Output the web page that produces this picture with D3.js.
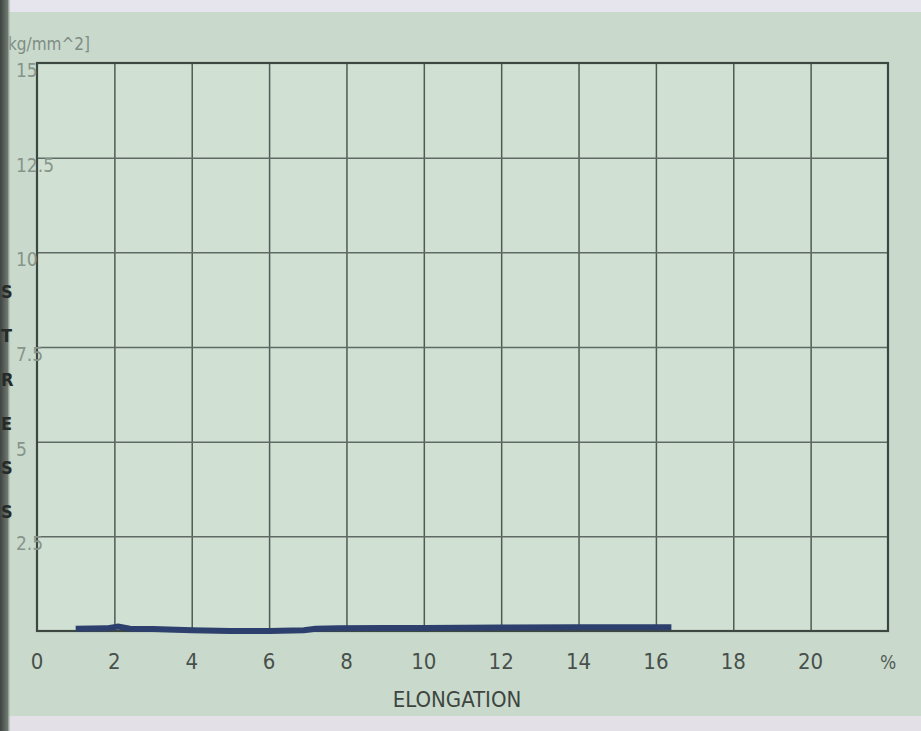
<!DOCTYPE html>
<html>
<head>
<meta charset="utf-8">
<script src="https://cdn.jsdelivr.net/npm/d3@7"></script>
<style>
  html, body { margin: 0; padding: 0; background: #c9dacc; }
  svg { display: block; }
</style>
</head>
<body>
<svg id="chart" width="921" height="731"></svg>
<script>
// Elongation (%) vs stress (kg/mm^2)
var elongation = [1.0, 1.8, 2.1, 2.4, 3.0, 4.0, 5.0, 6.0, 6.9, 7.2, 7.8, 9.0, 10.0, 12.0, 14.0, 16.0, 16.4];
var stress     = [0.06, 0.07, 0.12, 0.06, 0.05, 0.02, 0.0, 0.0, 0.02, 0.06, 0.07, 0.08, 0.08, 0.09, 0.1, 0.1, 0.1];

var xTicks = [0, 2, 4, 6, 8, 10, 12, 14, 16, 18, 20];
var yTicks = [2.5, 5, 7.5, 10, 12.5, 15];
var yTickLabels = ["2.5", "5", "7.5", "10", "12.5", "15"];
var yTitleLetters = ["S", "T", "R", "E", "S", "S"];

var W = 921, H = 731;
var margin = { left: 37, right: 33, top: 63, bottom: 100 };
var plotW = W - margin.left - margin.right;
var plotH = H - margin.top - margin.bottom;

var font = "'DejaVu Sans Condensed', 'Liberation Sans Narrow', 'Roboto', sans-serif";

var svg = d3.select("#chart");

// Page background, plus the paper edge / shadow bits of the photo
svg.append("rect").attr("width", W).attr("height", H).attr("fill", "#c9dacc");
svg.append("rect").attr("width", W).attr("height", 12).attr("fill", "#e6e4ec");
svg.append("rect").attr("y", 716).attr("width", W).attr("height", 15).attr("fill", "#e4e0e8");

var shade = svg.append("defs").append("linearGradient").attr("id", "edge")
    .attr("x1", 0).attr("x2", 1).attr("y1", 0).attr("y2", 0);
shade.append("stop").attr("offset", "0%").attr("stop-color", "#3e4440");
shade.append("stop").attr("offset", "70%").attr("stop-color", "#6e7870");
shade.append("stop").attr("offset", "100%").attr("stop-color", "#c9dacc").attr("stop-opacity", 0);

var x = d3.scaleLinear().domain([0, 22]).range([margin.left, margin.left + plotW]);
var y = d3.scaleLinear().domain([0, 15]).range([margin.top + plotH, margin.top]);

// Plot background
svg.append("rect")
    .attr("x", x(0)).attr("y", y(15))
    .attr("width", x(22) - x(0)).attr("height", y(0) - y(15))
    .attr("fill", "#d0e0d3");

// Vertical grid lines
svg.append("g")
    .attr("transform", "translate(0," + y(0) + ")")
    .call(d3.axisBottom(x).tickValues(xTicks.filter(function(d) { return d > 0; }))
        .tickSize(-plotH).tickFormat(""))
    .call(function(g) {
        g.select(".domain").remove();
        g.selectAll(".tick line").attr("stroke", "#4f5b54").attr("stroke-width", 1.5);
    });

// Horizontal grid lines
svg.append("g")
    .attr("transform", "translate(" + x(0) + ",0)")
    .call(d3.axisLeft(y).tickValues(yTicks.slice(0, -1)).tickSize(-plotW).tickFormat(""))
    .call(function(g) {
        g.select(".domain").remove();
        g.selectAll(".tick line").attr("stroke", "#5e6a63").attr("stroke-width", 1.5);
    });

// Frame
svg.append("rect")
    .attr("x", x(0)).attr("y", y(15))
    .attr("width", x(22) - x(0)).attr("height", y(0) - y(15))
    .attr("fill", "none").attr("stroke", "#3d4741").attr("stroke-width", 2.2);

// Data line
var line = d3.line().x(function(d, i) { return x(elongation[i]); })
    .y(function(d) { return y(d); });

svg.append("path")
    .datum(stress)
    .attr("d", line)
    .attr("fill", "none")
    .attr("stroke", "#2c3f6d")
    .attr("stroke-width", 6)
    .attr("stroke-linecap", "butt");

// X tick labels
svg.append("g").selectAll("text")
    .data(xTicks)
    .join("text")
    .attr("x", function(d) { return x(d); })
    .attr("y", 669)
    .attr("text-anchor", "middle")
    .attr("font-family", font)
    .attr("font-size", 22)
    .attr("fill", "#48504b")
    .text(function(d) { return d; });

svg.append("text")
    .attr("x", x(22)).attr("y", 669)
    .attr("text-anchor", "middle")
    .attr("font-family", font).attr("font-size", 19)
    .attr("fill", "#555d58")
    .text("%");

svg.append("text")
    .attr("x", 457).attr("y", 707)
    .attr("text-anchor", "middle")
    .attr("font-family", font).attr("font-size", 22)
    .attr("fill", "#3e4541")
    .text("ELONGATION");

// Y tick labels (left aligned, sitting just under each line)
svg.append("g").selectAll("text")
    .data(yTicks)
    .join("text")
    .attr("x", 16)
    .attr("y", function(d) { return y(d) + 14; })
    .attr("font-family", font)
    .attr("font-size", 19)
    .attr("fill", "#86948b")
    .text(function(d, i) { return yTickLabels[i]; });

// Unit label at the top-left
svg.append("text")
    .attr("x", 2).attr("y", 50)
    .attr("font-family", font).attr("font-size", 17)
    .attr("fill", "#7f8c84")
    .text("[kg/mm^2]");

// Dark page edge on the left
svg.append("rect").attr("x", 0).attr("y", 0).attr("width", 11).attr("height", H).attr("fill", "url(#edge)");

// Vertical axis title, mostly cut off by the page edge
svg.append("g").selectAll("text")
    .data(yTitleLetters)
    .join("text")
    .attr("x", 1)
    .attr("y", function(d, i) { return 298 + i * 44; })
    .attr("font-family", font).attr("font-size", 18)
    .attr("font-weight", "bold")
    .attr("fill", "#262b28")
    .text(function(d) { return d; });
</script>
</body>
</html>
